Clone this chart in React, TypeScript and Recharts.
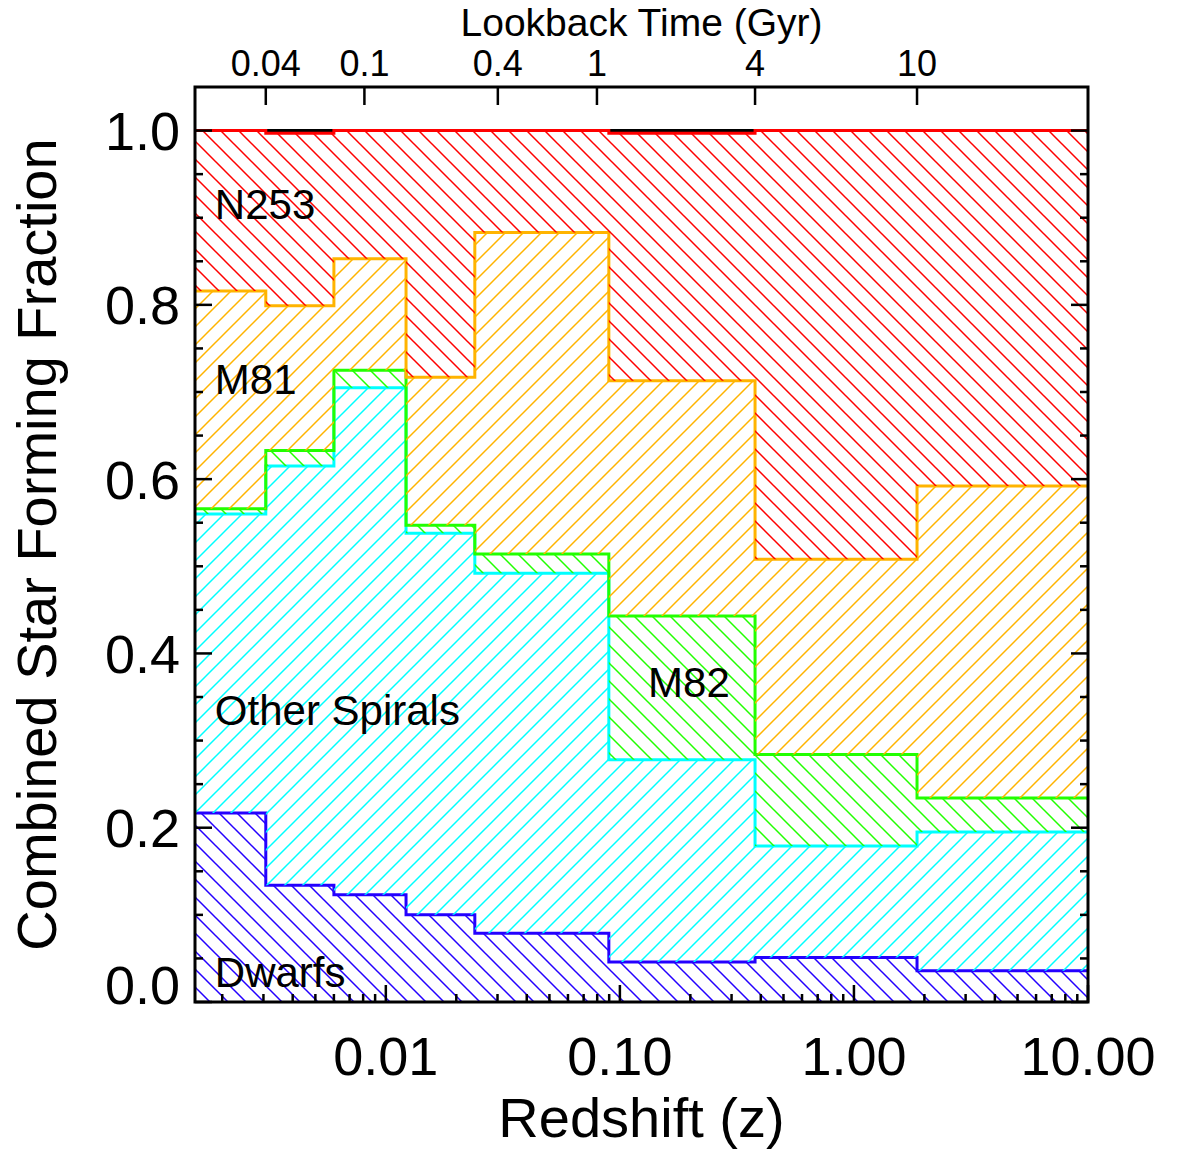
import React from "react";
import {
  ComposedChart,
  Area,
  XAxis,
  YAxis,
  ReferenceDot,
  ReferenceArea,
} from "recharts";

// redshift bin edges (left edge of each bin, last entry closes the final bin)
const BIN_EDGES = [0.00153, 0.00307, 0.006, 0.0122, 0.024, 0.0897, 0.378, 1.86, 10];

// fraction of star formation per bin, stacked bottom -> top
const DWARFS = [0.217, 0.134, 0.123, 0.1, 0.079, 0.046, 0.051, 0.036];
const SPIRALS = [0.343, 0.481, 0.582, 0.438, 0.413, 0.232, 0.128, 0.159];
const M82 = [0.006, 0.018, 0.02, 0.009, 0.022, 0.165, 0.105, 0.039];
const M81 = [0.25, 0.166, 0.128, 0.17, 0.369, 0.27, 0.224, 0.358];
const N253 = [0.184, 0.198, 0.147, 0.283, 0.117, 0.284, 0.492, 0.408];
const TOTAL = [1, 1, 1, 1, 1, 1, 1, 1];

const Z_TICKS = [
  0.002, 0.003, 0.004, 0.005, 0.006, 0.007, 0.008, 0.009,
  0.01, 0.02, 0.03, 0.04, 0.05, 0.06, 0.07, 0.08, 0.09,
  0.1, 0.2, 0.3, 0.4, 0.5, 0.6, 0.7, 0.8, 0.9,
  1, 2, 3, 4, 5, 6, 7, 8, 9, 10,
];
const Z_MAJOR = [0.01, 0.1, 1, 10];
const Z_MAJOR_TEXT = ["0.01", "0.10", "1.00", "10.00"];

const LOOKBACK_Z = [0.00307, 0.0081, 0.0301, 0.0798, 0.378, 1.86];
const LOOKBACK_TEXT = ["0.04", "0.1", "0.4", "1", "4", "10"];

const FRACTION_TICKS = [
  0, 0.05, 0.1, 0.15, 0.2, 0.25, 0.3, 0.35, 0.4, 0.45, 0.5,
  0.55, 0.6, 0.65, 0.7, 0.75, 0.8, 0.85, 0.9, 0.95, 1.0,
];

const SERIES = [
  { key: "dwarfs", values: DWARFS, color: "#2400ff", hatch: "back" },
  { key: "spirals", values: SPIRALS, color: "#00ffff", hatch: "fwd" },
  { key: "m82", values: M82, color: "#22ff00", hatch: "back" },
  { key: "m81", values: M81, color: "#ffb400", hatch: "fwd" },
  { key: "n253", values: N253, color: "#ff0000", hatch: "back" },
];

const LABELS = [
  { text: "N253", z: 0.00186, f: 0.916 },
  { text: "M81", z: 0.00186, f: 0.715 },
  { text: "Other Spirals", z: 0.00186, f: 0.335 },
  { text: "M82", z: 0.132, f: 0.367 },
  { text: "Dwarfs", z: 0.00186, f: 0.035 },
];

const W = 1178;
const H = 1152;
const PLOT = { left: 195, right: 1088, top: 87, bottom: 1002 };
const FONT = "'Liberation Sans', Arial, Helvetica, sans-serif";
const HATCH = 18;

const rows = BIN_EDGES.map((z, i) => {
  const k = Math.min(i, DWARFS.length - 1);
  const row: Record<string, number> = { z, total: TOTAL[k] };
  SERIES.forEach((s) => (row[s.key] = s.values[k]));
  return row;
});

const isMajorZ = (v: number) => Z_MAJOR.findIndex((m) => Math.abs(v - m) / m < 1e-6);

function FractionTick(props: any) {
  const { y, payload } = props;
  const v = payload.value as number;
  const major = Math.abs(v * 5 - Math.round(v * 5)) < 1e-6;
  const len = major ? 17 : 8;
  return (
    <g>
      <line x1={PLOT.left} x2={PLOT.left + len} y1={y} y2={y} stroke="#000" strokeWidth={2.5} />
      <line x1={PLOT.right} x2={PLOT.right - len} y1={y} y2={y} stroke="#000" strokeWidth={2.5} />
      {major && (
        <text
          x={PLOT.left - 15}
          y={v === 0 ? y - 17 : y}
          dy="0.36em"
          textAnchor="end"
          fontSize={54}
          fontFamily={FONT}
          fill="#000"
        >
          {v.toFixed(1)}
        </text>
      )}
    </g>
  );
}

function RedshiftTick(props: any) {
  const { x, payload } = props;
  const idx = isMajorZ(payload.value);
  const len = idx >= 0 ? 17 : 8;
  return (
    <g>
      <line x1={x} x2={x} y1={PLOT.bottom} y2={PLOT.bottom - len} stroke="#000" strokeWidth={2.5} />
      {idx >= 0 && (
        <text x={x} y={1075} textAnchor="middle" fontSize={54} fontFamily={FONT} fill="#000">
          {Z_MAJOR_TEXT[idx]}
        </text>
      )}
    </g>
  );
}

function LookbackTick(props: any) {
  const { x, payload } = props;
  const idx = LOOKBACK_Z.indexOf(payload.value);
  return (
    <g>
      <line x1={x} x2={x} y1={PLOT.top} y2={PLOT.top + 18} stroke="#000" strokeWidth={2.5} />
      <text x={x} y={76} textAnchor="middle" fontSize={36} fontFamily={FONT} fill="#000">
        {LOOKBACK_TEXT[idx]}
      </text>
    </g>
  );
}

function HatchPattern({ id, color, dir }: { id: string; color: string; dir: string }) {
  const s = HATCH;
  const h = s / 4;
  const d =
    dir === "fwd"
      ? `M${-h},${h} L${h},${-h} M0,${s} L${s},0 M${s - h},${s + h} L${s + h},${s - h}`
      : `M${-h},${s - h} L${h},${s + h} M0,0 L${s},${s} M${s - h},${-h} L${s + h},${h}`;
  return (
    <pattern id={id} patternUnits="userSpaceOnUse" width={s} height={s}>
      <path d={d} stroke={color} strokeWidth={1.5} fill="none" />
    </pattern>
  );
}

export default function App() {
  return (
    <div
      style={{
        position: "absolute",
        left: 0,
        top: 0,
        width: W,
        height: H,
        background: "#fff",
        fontFamily: FONT,
      }}
    >
      <ComposedChart
        width={W}
        height={H}
        data={rows}
        margin={{ top: 0, right: W - PLOT.right, bottom: 0, left: 0 }}
      >
        <defs>
          {SERIES.map((s) => (
            <HatchPattern key={s.key} id={`hatch-${s.key}`} color={s.color} dir={s.hatch} />
          ))}
        </defs>
        <XAxis
          xAxisId="bottom"
          dataKey="z"
          type="number"
          scale="log"
          domain={[BIN_EDGES[0], BIN_EDGES[BIN_EDGES.length - 1]]}
          allowDataOverflow
          ticks={Z_TICKS}
          interval={0}
          tick={<RedshiftTick />}
          tickLine={false}
          axisLine={false}
          height={H - PLOT.bottom}
          label={{
            content: () => (
              <text x={(PLOT.left + PLOT.right) / 2} y={1137} textAnchor="middle" fontSize={56} fontFamily={FONT} fill="#000">
                Redshift (z)
              </text>
            ),
          }}
        />
        <XAxis
          xAxisId="top"
          orientation="top"
          dataKey="z"
          type="number"
          scale="log"
          domain={[BIN_EDGES[0], BIN_EDGES[BIN_EDGES.length - 1]]}
          allowDataOverflow
          ticks={LOOKBACK_Z}
          interval={0}
          tick={<LookbackTick />}
          tickLine={false}
          axisLine={false}
          height={PLOT.top}
          label={{
            content: () => (
              <text x={(PLOT.left + PLOT.right) / 2} y={36} textAnchor="middle" fontSize={39} fontFamily={FONT} fill="#000">
                Lookback Time (Gyr)
              </text>
            ),
          }}
        />
        <YAxis
          yAxisId="left"
          type="number"
          domain={[0, 1.05]}
          allowDataOverflow
          ticks={FRACTION_TICKS}
          interval={0}
          tick={<FractionTick />}
          tickLine={false}
          axisLine={false}
          width={PLOT.left}
          label={{
            content: () => (
              <text
                transform={`translate(36, ${(PLOT.top + PLOT.bottom) / 2}) rotate(-90)`}
                textAnchor="middle"
                dy="0.36em"
                fontSize={56}
                fontFamily={FONT}
                fill="#000"
              >
                Combined Star Forming Fraction
              </text>
            ),
          }}
        />
        {/* total outline, drawn first so the coloured layers sit on top of it */}
        <Area
          xAxisId="top"
          yAxisId="left"
          dataKey="total"
          type="stepAfter"
          stroke="#000"
          strokeWidth={3}
          fill="none"
          fillOpacity={0}
          dot={false}
          activeDot={false}
          isAnimationActive={false}
        />
        {SERIES.map((s) => (
          <Area
            key={s.key}
            xAxisId="bottom"
            yAxisId="left"
            dataKey={s.key}
            stackId="sf"
            type="stepAfter"
            stroke={s.color}
            strokeWidth={3}
            fill={`url(#hatch-${s.key})`}
            fillOpacity={1}
            dot={false}
            activeDot={false}
            isAnimationActive={false}
          />
        ))}
        {LABELS.map((l) => (
          <ReferenceDot
            key={l.text}
            xAxisId="bottom"
            yAxisId="left"
            x={l.z}
            y={l.f}
            r={0}
            shape={(p: any) => (
              <text x={p.cx} y={p.cy} dy="0.36em" fontSize={42} fontFamily={FONT} fill="#000">
                {l.text}
              </text>
            )}
          />
        ))}
        <ReferenceArea
          xAxisId="bottom"
          yAxisId="left"
          x1={BIN_EDGES[0]}
          x2={BIN_EDGES[BIN_EDGES.length - 1]}
          y1={0}
          y2={1.05}
          fill="none"
          fillOpacity={0}
          stroke="#000"
          strokeWidth={3}
        />
      </ComposedChart>
    </div>
  );
}
